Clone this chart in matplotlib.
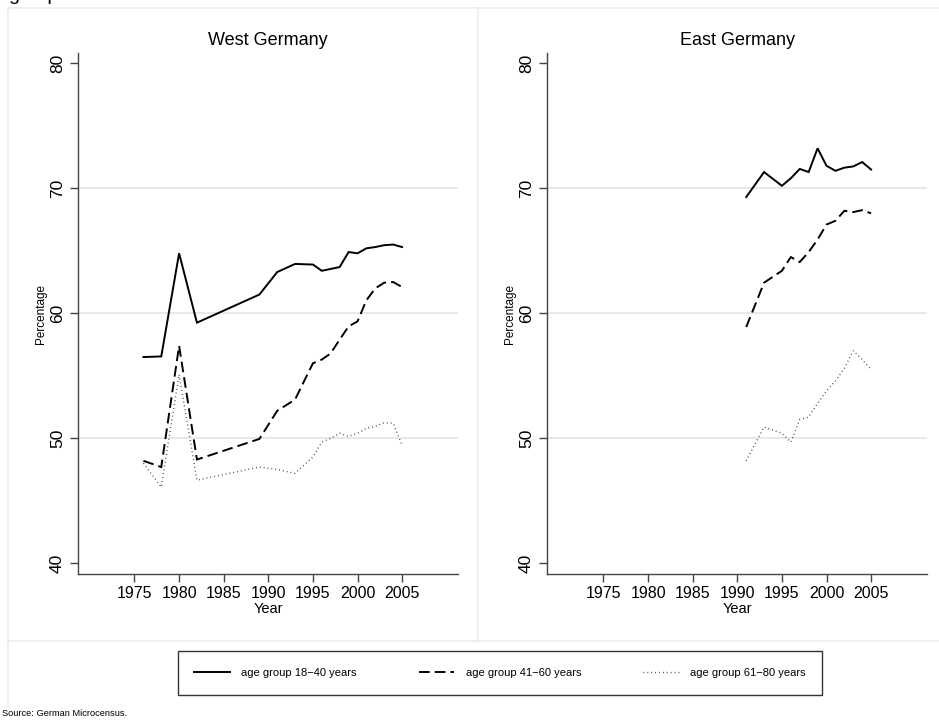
import matplotlib
matplotlib.use("Agg")
import matplotlib.pyplot as plt
from matplotlib.lines import Line2D

plt.rcParams['font.family'] = ['Liberation Sans', 'DejaVu Sans']

# ---- data ----
west_years = [1976, 1978, 1980, 1982, 1989, 1991, 1993, 1995, 1996, 1997,
              1998, 1999, 2000, 2001, 2002, 2003, 2004, 2005]
west_18_40 = [56.5, 56.55, 64.8, 59.25, 61.5, 63.3, 63.95, 63.9, 63.4, 63.55,
              63.7, 64.9, 64.8, 65.2, 65.3, 65.45, 65.5, 65.3]
west_41_60 = [48.2, 47.7, 57.4, 48.3, 49.95, 52.2, 53.1, 56.0, 56.3, 56.8,
              57.9, 58.95, 59.35, 61.05, 62.0, 62.45, 62.5, 62.1]
west_61_80 = [48.0, 46.1, 55.1, 46.65, 47.7, 47.5, 47.2, 48.5, 49.7, 50.0,
              50.4, 50.15, 50.4, 50.8, 50.95, 51.25, 51.2, 49.45]

east_years = [1991, 1993, 1995, 1996, 1997, 1998, 1999, 2000, 2001, 2002,
              2003, 2004, 2005]
east_18_40 = [69.3, 71.3, 70.2, 70.8, 71.55, 71.3, 73.2, 71.8, 71.4, 71.65,
              71.75, 72.1, 71.5]
east_41_60 = [58.9, 62.45, 63.4, 64.5, 64.1, 64.9, 65.9, 67.1, 67.4, 68.2,
              68.1, 68.25, 68.0]
east_61_80 = [48.2, 50.9, 50.4, 49.7, 51.5, 51.7, 52.8, 53.8, 54.6, 55.6,
              57.0, 56.3, 55.5]

panel_titles = ["West Germany", "East Germany"]
series_labels = ["age group 18\u221240 years", "age group 41\u221260 years",
                 "age group 61\u221280 years"]
x_ticks = [1975, 1980, 1985, 1990, 1995, 2000, 2005]
y_ticks = [40, 50, 60, 70, 80]
grid_vals = [50, 60, 70]

W, H = 939, 723
fig = plt.figure(figsize=(W / 100, H / 100), dpi=100)

def fx(px):
    return px / W

def fy(py):
    return 1 - py / H

styles = [
    dict(color='black', lw=1.4, ls='-'),
    dict(color='black', lw=1.4, ls=(0, (5.5, 2.6))),
    dict(color='#333333', lw=1.0, ls=(0, (0.6, 2.2))),
]

panels = [
    (west_years, [west_18_40, west_41_60, west_61_80]),
    (east_years, [east_18_40, east_41_60, east_61_80]),
]
lefts = [78.3, 547.3]
axw = 380.0
top_px, bot_px = 53.3, 574.3

spine_col = '#444444'
for i, (yrs, sers) in enumerate(panels):
    ax = fig.add_axes([fx(lefts[i]), fy(bot_px), fx(axw), (bot_px - top_px) / H])
    for g in grid_vals:
        ax.axhline(g, color='#e4e4e4', lw=1.2, zorder=0)
    for s, st in zip(sers, styles):
        ax.plot(yrs, s, **st, solid_joinstyle='miter', dash_joinstyle='miter')
    ax.set_xlim(1968.7, 2011.3)
    ax.set_ylim(39.12, 80.8)
    ax.set_xticks(x_ticks)
    ax.set_yticks(y_ticks)
    ax.set_yticklabels([str(v) for v in y_ticks], rotation=90, va='center')
    ax.tick_params(axis='both', direction='out', length=5.5, width=1.0,
                   color=spine_col, labelcolor='black')
    ax.tick_params(axis='x', pad=3, labelsize=11.5)
    ax.tick_params(axis='y', pad=4, labelsize=12.5)
    for sp in ['top', 'right']:
        ax.spines[sp].set_visible(False)
    for sp in ['left', 'bottom']:
        ax.spines[sp].set_color(spine_col)
        ax.spines[sp].set_linewidth(1.0)
    ax.set_xlabel("Year", fontsize=10.5, labelpad=1)
    ax.set_ylabel("Percentage", fontsize=8.5, labelpad=2)
    ax.set_title(panel_titles[i], fontsize=13, pad=6)

# panel frames (light gray)
fc = '#ececec'
fig.add_artist(Line2D([fx(8), fx(939)], [fy(8), fy(8)], color=fc, lw=1.2))
fig.add_artist(Line2D([fx(8), fx(8)], [fy(8), fy(706)], color=fc, lw=1.2))
fig.add_artist(Line2D([fx(477.7), fx(477.7)], [fy(8), fy(641)], color=fc, lw=1.2))
fig.add_artist(Line2D([fx(8), fx(939)], [fy(641), fy(641)], color=fc, lw=1.2))

# text clipped at the top edge (as in the reference crop)
fig.text(fx(8), fy(0.3), "group", fontsize=14, ha='left', va='baseline')

# legend
handles = [Line2D([], [], **st) for st in styles]
leg = fig.legend(handles, series_labels, loc='center',
                 bbox_to_anchor=(fx(500), fy(673)), ncol=3, frameon=True,
                 fancybox=False, edgecolor='black', fontsize=8,
                 handlelength=3.2, columnspacing=5.6, borderpad=1.5,
                 handletextpad=1.0, borderaxespad=0)
leg.get_frame().set_linewidth(1.0)

fig.text(fx(2), fy(713), "Source: German Microcensus.", fontsize=6.7,
         ha='left', va='center')

fig.savefig("out.png", dpi=100, facecolor='white')
